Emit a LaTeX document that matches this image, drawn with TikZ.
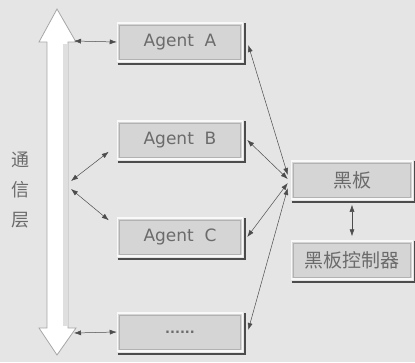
\documentclass[tikz,border=0pt]{standalone}
\usepackage{fontspec}
\setmainfont{Noto Sans CJK SC}
\newfontfamily\latinfont{DejaVu Sans}
\usepackage{tikz}
\usetikzlibrary{arrows.meta, positioning, calc}

\begin{document}
\begin{tikzpicture}[x=1pt, y=-1pt]

    \tikzset
    {
        box/.style={draw=white!95!gray, line width=1.5pt, fill=gray!33, text=black!58,
            minimum width=125pt, minimum height=38pt, inner sep=0pt,
            path picture={\draw[gray!60, line width=0.6pt] ([shift={(2pt,-2pt)}]path picture bounding box.north west)
                rectangle ([shift={(-2pt,2pt)}]path picture bounding box.south east);},
            append after command={
                ([xshift=1pt, yshift=-2pt]\tikzlastnode.south west) edge[shade line] ([xshift=3pt, yshift=-2pt]\tikzlastnode.south east)
                ([xshift=2pt, yshift=-3pt]\tikzlastnode.south east) edge[shade line] ([xshift=2pt, yshift=-1pt]\tikzlastnode.north east)}},
        shade line/.style={draw=black!70, line width=2pt},
        agentfont/.style={font=\latinfont\fontsize{17}{17}\selectfont},
        cjkfont/.style={font=\fontsize{19}{19}\selectfont},
        link/.style={{Latex[length=7pt,width=5pt]}-{Latex[length=7pt,width=5pt]}, gray!60!black, line width=0.5pt}
    }

    % background
    \fill[gray!20] (0,0) rectangle (415,362);
    \useasboundingbox (0,0) rectangle (415,362);

    % communication layer
    \pgfmathsetmacro{\shaftl}{47}
    \pgfmathsetmacro{\shaftr}{68}
    \draw[gray!70, fill=white, line width=0.8pt] (57,9) -- (76,42) -- (\shaftr,42) -- (\shaftr,328) -- (76,328)
        -- (57,355) -- (39,328) -- (\shaftl,328) -- (\shaftl,42) -- (39,42) -- cycle;
    \fill[gray!25] (\shaftr-5,44) rectangle (\shaftr-0.5,326);
    \node[text=black!58, font=\fontsize{18}{30}\selectfont, align=center] (layer) at (21,190) {通\\信\\层};

    % agents
    \node[box, agentfont] (agentA) at (180,42) {Agent\ \ A};
    \node[box, agentfont] (agentB) at (180,140) {Agent\ \ B};
    \node[box, agentfont] (agentC) at (180,237) {Agent\ \ C};
    \node[box, font=\latinfont\bfseries\fontsize{13}{13}\selectfont] (agentN) at (180,332) {......};

    % blackboard
    \node[box, minimum width=121pt, cjkfont] (board) at (352,180) {黑板};
    \node[box, minimum width=121pt, cjkfont] (control) at (352,260) {黑板控制器};

    \coordinate (busA) at (74,41);
    \coordinate (busB) at (71,181);
    \coordinate (busC) at (71,189);
    \coordinate (busN) at (74,333);

    \draw[link] (busA) -- (agentA.west);
    \draw[link] (busB) -- ([xshift=-8pt, yshift=8pt]agentB.south west);
    \draw[link] (busC) -- ([xshift=-8pt, yshift=-3pt]agentC.north west);
    \draw[link] (busN) -- (agentN.west);

    \draw[link] ($(board.west)+(-3,-5)$) -- ([xshift=5pt, yshift=-3pt]agentA.east);
    \draw[link] ($(board.west)+(-3,-1)$) -- ([xshift=4pt]agentB.east);
    \draw[link] ($(board.west)+(-3,3)$) -- ([xshift=4pt]agentC.east);
    \draw[link] ($(board.west)+(-3,8)$) -- ([xshift=5pt, yshift=2pt]agentN.east);

    \draw[link] ([yshift=-5pt]board.south) -- ([yshift=4pt]control.north);

\end{tikzpicture}
\end{document}
